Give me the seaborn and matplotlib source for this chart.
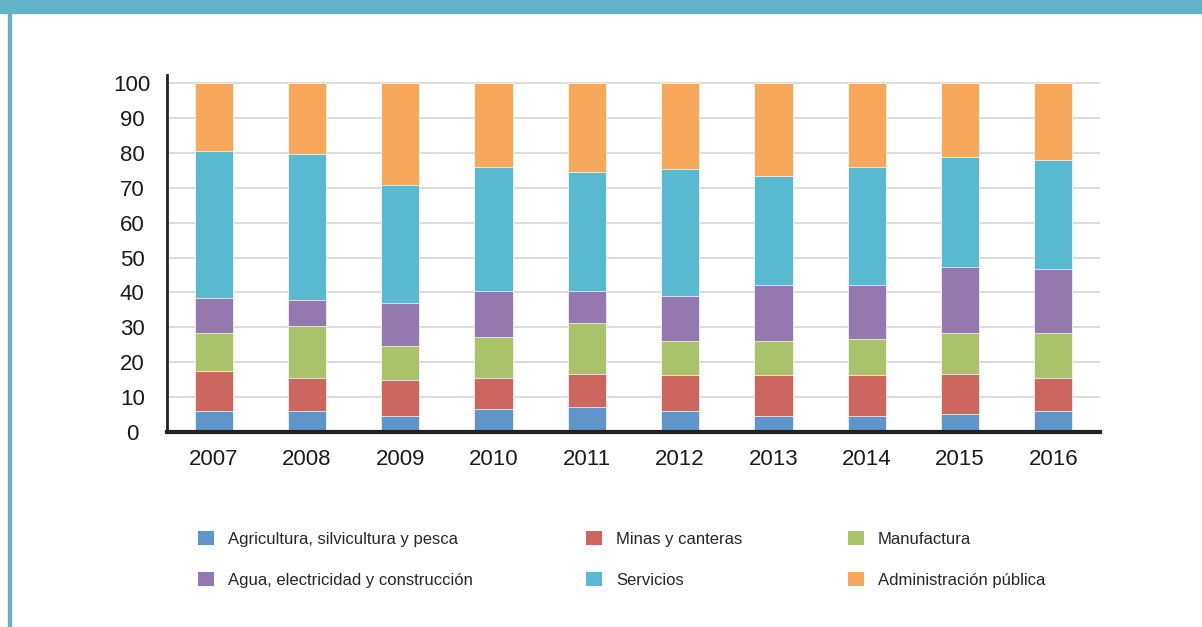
import numpy as np
import pandas as pd
import seaborn as sns
import matplotlib.pyplot as plt
from matplotlib.patches import Patch, Rectangle

years = ['2007', '2008', '2009', '2010', '2011', '2012', '2013', '2014', '2015', '2016']
sectors = ['Agricultura, silvicultura y pesca', 'Minas y canteras', 'Manufactura',
           'Agua, electricidad y construcción', 'Servicios', 'Administración pública']
agricultura = [5.9, 5.9, 4.5, 6.5, 7.1, 5.9, 4.5, 4.5, 5.3, 5.9]
minas = [11.6, 9.6, 10.4, 9.0, 9.6, 10.3, 11.7, 11.7, 11.4, 9.6]
manufactura = [11.0, 15.0, 9.8, 11.7, 14.5, 9.8, 9.8, 10.4, 11.8, 13.0]
agua = [9.8, 7.2, 12.2, 13.1, 9.1, 12.9, 16.2, 15.6, 18.9, 18.2]
servicios = [42.2, 42.1, 33.8, 35.6, 34.3, 36.4, 31.2, 33.7, 31.3, 31.1]
administracion = [19.5, 20.2, 29.3, 24.1, 25.4, 24.7, 26.6, 24.1, 21.3, 22.2]
colors = ['#5F95C8', '#CD665F', '#AAC36B', '#9379AF', '#58B9D1', '#F8A85A']

sns.set_theme(style='white')
plt.rcParams['font.family'] = ['Liberation Sans', 'DejaVu Sans']

fig = plt.figure(figsize=(12.02, 6.27), dpi=100)
W, H = 1202, 627
ax = fig.add_axes([167 / W, (H - 432) / H, (1100 - 167) / W, (432 - 75) / H])

series = [agricultura, minas, manufactura, agua, servicios, administracion]
cum = np.cumsum(np.array(series), axis=0)
for i in reversed(range(len(series))):
    df = pd.DataFrame({'Año': years, 'valor': cum[i]})
    sns.barplot(data=df, x='Año', y='valor', color=colors[i], width=0.41,
                saturation=1, edgecolor='white', linewidth=0.5, ax=ax, zorder=2)

ax.set_xlim(-0.5, 9.5)
ax.set_ylim(0, 102.3)
ax.set_yticks(range(0, 101, 10))
ax.set_axisbelow(True)
ax.yaxis.grid(True, color='#D9D9D9', linewidth=1.3)
ax.xaxis.grid(False)
ax.set_xlabel('')
ax.set_ylabel('')
for s in ['top', 'right']:
    ax.spines[s].set_visible(False)
ax.spines['left'].set_color('#222222')
ax.spines['left'].set_linewidth(2)
ax.spines['bottom'].set_color('#222222')
ax.spines['bottom'].set_linewidth(3)
ax.tick_params(axis='both', length=0, labelsize=16, colors='#1a1a1a')
ax.tick_params(axis='y', pad=25)
ax.tick_params(axis='x', pad=12)
for lab in ax.get_yticklabels():
    lab.set_horizontalalignment('center')

# frame decorations
fig.add_artist(Rectangle((0, 1 - 13 / H), 1, 13 / H, transform=fig.transFigure,
                         color='#64B3C7', zorder=0))
fig.add_artist(Rectangle((8 / W, 0), 3 / W, 1, transform=fig.transFigure,
                         color='#64B3C7', zorder=0))

# legend, three columns
col_x = [198, 586, 848]
for c in range(3):
    handles = [Patch(facecolor=colors[c], edgecolor='none'),
               Patch(facecolor=colors[c + 3], edgecolor='none')]
    labels = [sectors[c], sectors[c + 3]]
    fig.legend(handles, labels, loc='upper left',
               bbox_to_anchor=(col_x[c] / W, (H - 531) / H),
               frameon=False, borderpad=0, borderaxespad=0,
               fontsize=12, handlelength=0.95, handleheight=0.95,
               handletextpad=0.84, labelspacing=1.5)

fig.savefig('out.png', dpi=100)
